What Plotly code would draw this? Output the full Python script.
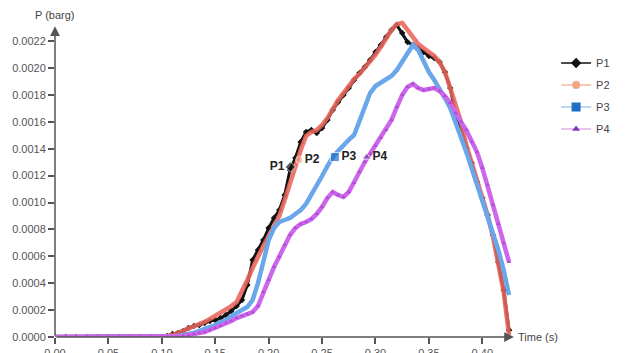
import plotly.graph_objects as go

# ---- data (time in s, pressure in barg) ----
time_s = [0.00, 0.01, 0.02, 0.03, 0.04, 0.05, 0.06, 0.07, 0.08, 0.09,
          0.100, 0.105, 0.110, 0.115, 0.120, 0.125, 0.130, 0.135, 0.140, 0.145,
          0.150, 0.155, 0.160, 0.165, 0.170, 0.175, 0.180, 0.185, 0.190, 0.195,
          0.200, 0.205, 0.210, 0.215, 0.220, 0.225, 0.230, 0.235, 0.240, 0.245,
          0.250, 0.255, 0.260, 0.265, 0.270, 0.275, 0.280, 0.285, 0.290, 0.295,
          0.300, 0.305, 0.310, 0.315, 0.320, 0.325, 0.330, 0.335, 0.340, 0.345,
          0.350, 0.355, 0.360, 0.365, 0.370, 0.375, 0.380, 0.385, 0.390, 0.395,
          0.400, 0.405, 0.410, 0.415, 0.420, 0.425]

p1 = [0, 0, 0, 0, 0, 0, 0, 0, 0, 0,
      0.000000, 0.000007, 0.000022, 0.000030, 0.000045, 0.000067, 0.000082, 0.000089, 0.000104, 0.000119,
      0.000126, 0.000141, 0.000164, 0.000193, 0.000230, 0.000275, 0.000387, 0.000573, 0.000647, 0.000721,
      0.000810, 0.000885, 0.000944, 0.001056, 0.001242, 0.001331, 0.001450, 0.001524, 0.001539, 0.001517,
      0.001554, 0.001613, 0.001688, 0.001747, 0.001799, 0.001851, 0.001911, 0.001963, 0.002007, 0.002059,
      0.002119, 0.002171, 0.002231, 0.002283, 0.002320, 0.002260, 0.002193, 0.002171, 0.002149, 0.002119,
      0.002089, 0.002074, 0.002045, 0.001970, 0.001851, 0.001651, 0.001554, 0.001405, 0.001294, 0.001152,
      0.001033, 0.000907, 0.000758, 0.000558, 0.000349, 0.000052]

p2 = [0, 0, 0, 0, 0, 0, 0, 0, 0, 0,
      0.000000, 0.000007, 0.000015, 0.000030, 0.000045, 0.000059, 0.000074, 0.000089, 0.000112, 0.000134,
      0.000156, 0.000178, 0.000201, 0.000230, 0.000260, 0.000335, 0.000424, 0.000513, 0.000602, 0.000677,
      0.000751, 0.000825, 0.000900, 0.001019, 0.001152, 0.001279, 0.001390, 0.001494, 0.001524, 0.001539,
      0.001576, 0.001628, 0.001703, 0.001762, 0.001814, 0.001866, 0.001918, 0.001955, 0.002000, 0.002045,
      0.002097, 0.002156, 0.002223, 0.002283, 0.002327, 0.002335, 0.002283, 0.002223, 0.002178, 0.002149,
      0.002119, 0.002089, 0.002045, 0.001970, 0.001851, 0.001725, 0.001599, 0.001428, 0.001301, 0.001167,
      0.001041, 0.000907, 0.000744, 0.000558, 0.000335, 0.000015]

p3 = [0, 0, 0, 0, 0, 0, 0, 0, 0, 0,
      0.000000, 0.000000, 0.000000, 0.000007, 0.000015, 0.000022, 0.000030, 0.000045, 0.000059, 0.000074,
      0.000089, 0.000112, 0.000126, 0.000156, 0.000178, 0.000201, 0.000223, 0.000275, 0.000401, 0.000558,
      0.000721, 0.000810, 0.000855, 0.000870, 0.000885, 0.000915, 0.000944, 0.000989, 0.001056, 0.001115,
      0.001197, 0.001271, 0.001338, 0.001383, 0.001428, 0.001465, 0.001502, 0.001599, 0.001703, 0.001814,
      0.001866, 0.001888, 0.001911, 0.001941, 0.001985, 0.002045, 0.002119, 0.002171, 0.002134, 0.002045,
      0.001970, 0.001911, 0.001851, 0.001777, 0.001703, 0.001599, 0.001480, 0.001375, 0.001257, 0.001138,
      0.001019, 0.000907, 0.000781, 0.000647, 0.000498, 0.000312]

p4 = [0, 0, 0, 0, 0, 0, 0, 0, 0, 0,
      0.000000, 0.000000, 0.000000, 0.000000, 0.000007, 0.000015, 0.000022, 0.000030, 0.000037, 0.000052,
      0.000067, 0.000082, 0.000104, 0.000119, 0.000141, 0.000156, 0.000171, 0.000186, 0.000230, 0.000335,
      0.000424, 0.000520, 0.000595, 0.000684, 0.000758, 0.000810, 0.000840, 0.000855, 0.000877, 0.000915,
      0.000967, 0.001033, 0.001078, 0.001056, 0.001041, 0.001078, 0.001145, 0.001227, 0.001301, 0.001361,
      0.001420, 0.001480, 0.001539, 0.001613, 0.001710, 0.001799, 0.001859, 0.001881, 0.001851, 0.001836,
      0.001844, 0.001851, 0.001829, 0.001792, 0.001740, 0.001665, 0.001599, 0.001539, 0.001450, 0.001375,
      0.001257, 0.001130, 0.000981, 0.000840, 0.000699, 0.000558]

series_names = ["P1", "P2", "P3", "P4"]
label_t = [0.2204, 0.2287, 0.2620, 0.2917]
label_p = [0.001264, 0.001316, 0.001338, 0.001338]

x_ticks = [0.00, 0.05, 0.10, 0.15, 0.20, 0.25, 0.30, 0.35, 0.40]
y_ticks = [0.0000, 0.0002, 0.0004, 0.0006, 0.0008, 0.0010, 0.0012,
           0.0014, 0.0016, 0.0018, 0.0020, 0.0022]

X_MAX = 0.4278
Y_MAX = 0.002357

fig = go.Figure()

# curves
fig.add_trace(go.Scatter(x=time_s, y=p1, mode="lines+markers", showlegend=False,
                         line=dict(color="#111111", width=3),
                         marker=dict(symbol="diamond", size=5, color="#111111")))
fig.add_trace(go.Scatter(x=time_s, y=p2, mode="lines", showlegend=False,
                         line=dict(color="#ea655c", width=4.5), opacity=0.88))
fig.add_trace(go.Scatter(x=time_s, y=p3, mode="lines", showlegend=False,
                         line=dict(color="#6aa6ea", width=4.5)))
fig.add_trace(go.Scatter(x=time_s, y=p4, mode="lines+markers", showlegend=False,
                         line=dict(color="#cc66ea", width=4.5),
                         marker=dict(symbol="triangle-up", size=4, color="#b04cd4")))

# point labels
fig.add_trace(go.Scatter(
    x=label_t, y=label_p, mode="markers+text", showlegend=False,
    text=series_names,
    textposition=["middle left", "middle right", "middle right", "middle right"],
    textfont=dict(family="Liberation Sans", size=12, color="#222222", weight="bold"),
    marker=dict(symbol=["diamond", "circle", "square", "triangle-up"],
                size=[8, 7, 9, 8],
                color=["#111111", "#f4a582", "#1f6fc5", "#7a3fb5"]),
    cliponaxis=False))

# legend entries
leg_line = ["#111111", "#f4b8a4", "#a9cdf1", "#e2b2ea"]
leg_mark = ["#111111", "#f4a582", "#1f6fc5", "#7a3fb5"]
leg_sym = ["diamond", "circle", "square", "triangle-up"]
leg_size = [8, 8, 9, 7]
for i, nm in enumerate(series_names):
    fig.add_trace(go.Scatter(x=[None], y=[None], mode="lines+markers", name=nm,
                             legendgroup=nm,
                             line=dict(color=leg_line[i], width=1.5),
                             marker=dict(symbol=leg_sym[i], size=leg_size[i], color=leg_mark[i])))

axis_col = "#555555"
fig.update_layout(
    width=627, height=353,
    margin=dict(l=55, r=110, t=20, b=16),
    paper_bgcolor="white", plot_bgcolor="white",
    font=dict(family="Liberation Sans", size=11, color="#555555"),
    legend=dict(x=1.0965, xanchor="left", y=0.91, yanchor="top",
                tracegroupgap=3, font=dict(size=11, color="#444444"),
                bgcolor="rgba(0,0,0,0)"),
    xaxis=dict(range=[0, X_MAX], showgrid=False, zeroline=False, showline=False,
               ticks="outside", ticklen=6, tickcolor=axis_col, tickwidth=1.5,
               tickvals=x_ticks, tickformat=".2f", automargin=False),
    yaxis=dict(range=[0, Y_MAX], showgrid=False, zeroline=False, showline=False,
               ticks="outside", ticklen=6, tickcolor=axis_col, tickwidth=1.5,
               tickvals=y_ticks, tickformat=".4f", automargin=False),
)

# axis lines with arrow heads
fig.add_annotation(x=0.4296, y=0, ax=0, ay=0, xref="x", yref="y", axref="x", ayref="y",
                   text="", showarrow=True, arrowhead=2, arrowsize=1.3, arrowwidth=1.5,
                   arrowcolor=axis_col)
fig.add_annotation(x=0, y=0.00231, ax=0, ay=0, xref="x", yref="y", axref="x", ayref="y",
                   text="", showarrow=True, arrowhead=2, arrowsize=1.3, arrowwidth=1.5,
                   arrowcolor=axis_col)
fig.add_annotation(x=0, y=1.016, xref="paper", yref="paper", text="P (barg)",
                   showarrow=False, xanchor="center", yanchor="middle",
                   font=dict(size=11, color="#444444"))
fig.add_annotation(x=1.009, y=0, xref="paper", yref="y", text="Time (s)",
                   showarrow=False, xanchor="left", yanchor="middle",
                   font=dict(size=11, color="#444444"))

fig.write_html("out.html")
